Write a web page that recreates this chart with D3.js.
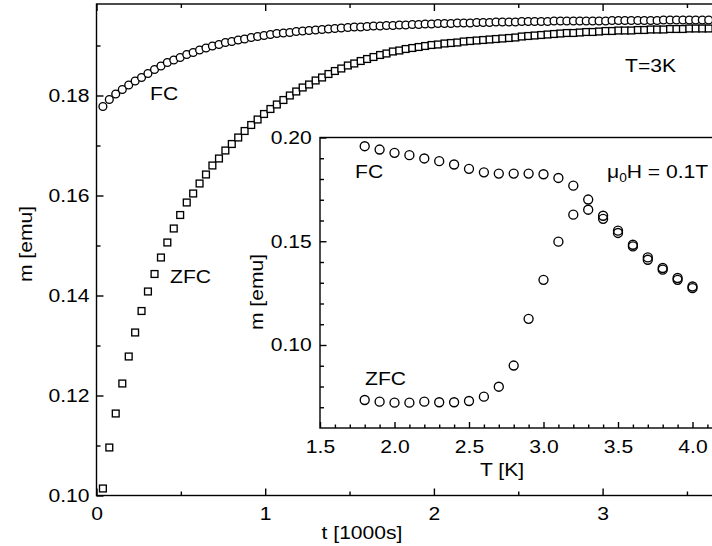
<!DOCTYPE html>
<html>
<head>
<meta charset="utf-8">
<script src="https://cdn.jsdelivr.net/npm/d3@7"></script>
<style>
    body { margin: 0; background: #fff; }
    svg { display: block; }
</style>
</head>
<body>
<div id="chart"></div>
<script>
/**
 * Data (main) and the FC/ZFC sweep (inset)
 */
// time axis, in units of 1000 s
const timeK = [
    0.038, 0.076, 0.114, 0.153, 0.191, 0.229, 0.267, 0.305, 0.344, 0.382,
    0.420, 0.458, 0.496, 0.535, 0.573, 0.611, 0.649, 0.687, 0.726, 0.764,
    0.802, 0.840, 0.878, 0.917, 0.955, 0.993, 1.031, 1.069, 1.108, 1.146,
    1.184, 1.222, 1.260, 1.299, 1.337, 1.375, 1.413, 1.451, 1.490, 1.528,
    1.566, 1.604, 1.642, 1.681, 1.719, 1.757, 1.795, 1.833, 1.872, 1.910,
    1.948, 1.986, 2.024, 2.063, 2.101, 2.139, 2.177, 2.215, 2.254, 2.292,
    2.330, 2.368, 2.406, 2.445, 2.483, 2.521, 2.559, 2.597, 2.636, 2.674,
    2.712, 2.750, 2.788, 2.827, 2.865, 2.903, 2.941, 2.979, 3.018, 3.056,
    3.094, 3.132, 3.170, 3.209, 3.247, 3.285, 3.323, 3.361, 3.400, 3.438,
    3.476, 3.514, 3.552, 3.591, 3.629
];
const fcMain = [
    0.1778, 0.1792, 0.1803, 0.1812, 0.1821, 0.1829, 0.1836, 0.1844, 0.1852, 0.1859,
    0.1866, 0.1871, 0.1876, 0.1882, 0.1886, 0.1891, 0.1895, 0.1899, 0.1902, 0.1906,
    0.1908, 0.1911, 0.1913, 0.1916, 0.1918, 0.1920, 0.1922, 0.1924, 0.1925, 0.1926,
    0.1928, 0.1929, 0.1930, 0.1931, 0.1932, 0.1933, 0.1934, 0.1935, 0.1936, 0.1937,
    0.1937, 0.1938, 0.1939, 0.1939, 0.1940, 0.1940, 0.1941, 0.1941, 0.1942, 0.1942,
    0.1943, 0.1943, 0.1944, 0.1944, 0.1944, 0.1945, 0.1945, 0.1945, 0.1946, 0.1946,
    0.1946, 0.1947, 0.1947, 0.1947, 0.1947, 0.1948, 0.1948, 0.1948, 0.1948, 0.1948,
    0.1949, 0.1949, 0.1949, 0.1949, 0.1949, 0.1949, 0.1949, 0.1949, 0.1949, 0.1950,
    0.1950, 0.1950, 0.1950, 0.1950, 0.1950, 0.1950, 0.1950, 0.1951, 0.1951, 0.1951,
    0.1951, 0.1951, 0.1951, 0.1951, 0.1951
];
const zfcMain = [
    0.1014, 0.1096, 0.1164, 0.1224, 0.1278, 0.1326, 0.1369, 0.1408, 0.1443, 0.1476,
    0.1506, 0.1534, 0.1561, 0.1586, 0.1604, 0.1624, 0.1642, 0.1660, 0.1674, 0.1690,
    0.1703, 0.1716, 0.1729, 0.1741, 0.1752, 0.1763, 0.1773, 0.1782, 0.1791, 0.1800,
    0.1808, 0.1816, 0.1822, 0.1830, 0.1836, 0.1843, 0.1849, 0.1854, 0.1860, 0.1864,
    0.1869, 0.1873, 0.1877, 0.1881, 0.1884, 0.1888, 0.1890, 0.1893, 0.1895, 0.1897,
    0.1899, 0.1901, 0.1902, 0.1904, 0.1905, 0.1906, 0.1908, 0.1909, 0.1910, 0.1911,
    0.1912, 0.1913, 0.1914, 0.1915, 0.1916, 0.1918, 0.1919, 0.1920, 0.1921, 0.1922,
    0.1923, 0.1924, 0.1925, 0.1925, 0.1926, 0.1927, 0.1927, 0.1928, 0.1929, 0.1929,
    0.1930, 0.1930, 0.1930, 0.1931, 0.1931, 0.1932, 0.1932, 0.1932, 0.1933, 0.1933,
    0.1933, 0.1934, 0.1934, 0.1934, 0.1934
];

// inset: temperature sweep at mu0H = 0.1T
const tempK = [1.8, 1.9, 2.0, 2.1, 2.2, 2.3, 2.4, 2.5, 2.6, 2.7, 2.8, 2.9,
               3.0, 3.1, 3.2, 3.3, 3.4, 3.5, 3.6, 3.7, 3.8, 3.9, 4.0];
const fcInset = [0.1958, 0.1942, 0.1926, 0.1915, 0.1899, 0.1886, 0.1870, 0.1849,
                 0.1832, 0.1826, 0.1826, 0.1826, 0.1823, 0.1805, 0.1768, 0.1701,
                 0.1623, 0.1551, 0.1483, 0.1422, 0.1371, 0.1323, 0.1282];
const zfcInset = [0.0735, 0.0727, 0.0722, 0.0722, 0.0727, 0.0724, 0.0724, 0.0730,
                  0.0751, 0.0799, 0.0901, 0.1126, 0.1314, 0.1498, 0.1628, 0.1652,
                  0.1608, 0.1540, 0.1475, 0.1411, 0.1363, 0.1314, 0.1274];

// tick values
const mainXTicks = [0, 1, 2, 3];
const mainYTicks = [0.10, 0.12, 0.14, 0.16, 0.18];
const insetXTicks = [1.5, 2.0, 2.5, 3.0, 3.5, 4.0];
const insetYTicks = [0.10, 0.15, 0.20];

/**
 * MACROS
 */
const WIDTH = 712, HEIGHT = 546;
const FONT = "'Liberation Sans', Arial, Helvetica, sans-serif";
const FS = 18.5;      // font size
const SX = 1.14;      // glyphs in the original are a bit wider than Arial
const LW = 1.4;       // axis line width
const MW = 1.35;      // marker outline width

const svg = d3.select("#chart").append("svg")
    .attr("width", WIDTH)
    .attr("height", HEIGHT)
    .style("font-family", FONT);

/**
 * Widen the text of an axis while keeping its anchor point
 */
function widen(sel){
    sel.selectAll("text").each(function(){
        let t = d3.select(this),
        x = +t.attr("x") || 0,
        y = +t.attr("y") || 0;
        t.attr("x", null).attr("y", null)
         .attr("transform", "translate(" + x + "," + y + ") scale(" + SX + ",1)");
    });
}

function label(txt, x, y, anchor, rotate){
    return svg.append("text")
        .attr("transform", "translate(" + x + "," + y + ")" + (rotate ? " rotate(-90)" : "") + " scale(" + SX + ",1)")
        .attr("text-anchor", anchor || "start")
        .style("font-size", FS + "px")
        .text(txt);
}

function styleAxis(g){
    g.select(".domain").remove();
    g.selectAll("line").attr("stroke", "#000").attr("stroke-width", LW);
    g.selectAll("text").attr("fill", "#000").style("font-size", FS + "px").style("font-family", FONT);
}

/**
 * Main plot: relaxation at T = 3K
 */
const x = d3.scaleLinear().domain([0, 4]).range([96.5, 96.5 + 4 * 168.7]);
const y = d3.scaleLinear().domain([0.10, 0.18]).range([495.5, 95.5]);
const yTop = y.invert(4);

let gx = svg.append("g").attr("transform", "translate(0," + y(0.10) + ")")
    .call(d3.axisBottom(x).tickValues(mainXTicks).tickFormat(d3.format("d"))
        .tickSizeInner(-7).tickSizeOuter(0).tickPadding(11.5));
styleAxis(gx); widen(gx);
let gxm = svg.append("g").attr("transform", "translate(0," + y(0.10) + ")")
    .call(d3.axisBottom(x).tickValues(d3.range(0.5, 4, 1)).tickFormat("")
        .tickSizeInner(-4).tickSizeOuter(0));
styleAxis(gxm);

let gt = svg.append("g").attr("transform", "translate(0," + y(yTop) + ")")
    .call(d3.axisTop(x).tickValues(mainXTicks).tickFormat("").tickSizeInner(-7).tickSizeOuter(0));
styleAxis(gt);
let gtm = svg.append("g").attr("transform", "translate(0," + y(yTop) + ")")
    .call(d3.axisTop(x).tickValues(d3.range(0.5, 4, 1)).tickFormat("").tickSizeInner(-4).tickSizeOuter(0));
styleAxis(gtm);

let gy = svg.append("g").attr("transform", "translate(" + x(0) + ",0)")
    .call(d3.axisLeft(y).tickValues(mainYTicks).tickFormat(d3.format(".2f"))
        .tickSizeInner(-7).tickSizeOuter(0).tickPadding(7));
styleAxis(gy); widen(gy);
let gym = svg.append("g").attr("transform", "translate(" + x(0) + ",0)")
    .call(d3.axisLeft(y).tickValues([0.11, 0.13, 0.15, 0.17, 0.19]).tickFormat("")
        .tickSizeInner(-4).tickSizeOuter(0));
styleAxis(gym);

// frame (right side runs off the picture)
svg.append("rect")
    .attr("x", x(0)).attr("y", y(yTop))
    .attr("width", x(4) - x(0)).attr("height", y(0.10) - y(yTop))
    .attr("fill", "none").attr("stroke", "#000").attr("stroke-width", LW);

// ZFC squares then FC circles
svg.append("g").selectAll("rect")
    .data(timeK.map((t, i) => [t, zfcMain[i]]))
    .join("rect")
    .attr("x", d => x(d[0]) - 3.4)
    .attr("y", d => y(d[1]) - 3.4)
    .attr("width", 6.8).attr("height", 6.8)
    .attr("fill", "#fff").attr("stroke", "#000").attr("stroke-width", MW);

svg.append("g").selectAll("circle")
    .data(timeK.map((t, i) => [t, fcMain[i]]))
    .join("circle")
    .attr("cx", d => x(d[0]))
    .attr("cy", d => y(d[1]))
    .attr("r", 3.9)
    .attr("fill", "#fff").attr("stroke", "#000").attr("stroke-width", MW);

label("FC", 150, 100);
label("ZFC", 170, 283);
label("T=3K", 625, 72);
label("m [emu]", 32, 244, "middle", true);
label("t [1000s]", 362, 539, "middle");

/**
 * Inset: m(T) for FC and ZFC
 */
const xi = d3.scaleLinear().domain([1.5, 4.2]).range([320, 320 + 2.7 * 149]);
const yi = d3.scaleLinear().domain([0.06, 0.20]).range([428, 137.5]);

svg.append("rect")
    .attr("x", xi(1.5)).attr("y", yi(0.20))
    .attr("width", xi(4.2) - xi(1.5)).attr("height", yi(0.06) - yi(0.20))
    .attr("fill", "#fff").attr("stroke", "#000").attr("stroke-width", LW);

let ix = svg.append("g").attr("transform", "translate(0," + yi(0.06) + ")")
    .call(d3.axisBottom(xi).tickValues(insetXTicks).tickFormat(d3.format(".1f"))
        .tickSizeInner(-6).tickSizeOuter(0).tickPadding(12));
styleAxis(ix); widen(ix);
let ixm = svg.append("g").attr("transform", "translate(0," + yi(0.06) + ")")
    .call(d3.axisBottom(xi).tickValues(d3.range(16, 42).filter(v => v % 5 != 0).map(v => v / 10))
        .tickFormat("").tickSizeInner(-3.5).tickSizeOuter(0));
styleAxis(ixm);

let iy = svg.append("g").attr("transform", "translate(" + xi(1.5) + ",0)")
    .call(d3.axisLeft(yi).tickValues(insetYTicks).tickFormat(d3.format(".2f"))
        .tickSizeInner(-6.5).tickSizeOuter(0).tickPadding(8.3));
styleAxis(iy); widen(iy);
let iym = svg.append("g").attr("transform", "translate(" + xi(1.5) + ",0)")
    .call(d3.axisLeft(yi).tickValues(d3.range(7, 20).filter(v => v % 5 != 0).map(v => v / 100))
        .tickFormat("").tickSizeInner(-4).tickSizeOuter(0));
styleAxis(iym);

svg.append("g").selectAll("circle")
    .data(tempK.map((t, i) => [t, zfcInset[i]]).concat(tempK.map((t, i) => [t, fcInset[i]])))
    .join("circle")
    .attr("cx", d => xi(d[0]))
    .attr("cy", d => yi(d[1]))
    .attr("r", 4.5)
    .attr("fill", "none").attr("stroke", "#000").attr("stroke-width", MW);

label("FC", 355, 178);
label("ZFC", 365, 385);
label("T [K]", 502, 476, "middle");
label("m [emu]", 263, 292, "middle", true);

let mu = label("", 607, 178);
mu.append("tspan").text("\u03bc");
mu.append("tspan").attr("dy", 4).style("font-size", "12px").text("0");
mu.append("tspan").attr("dy", -4).text("H = 0.1T");
</script>
</body>
</html>
